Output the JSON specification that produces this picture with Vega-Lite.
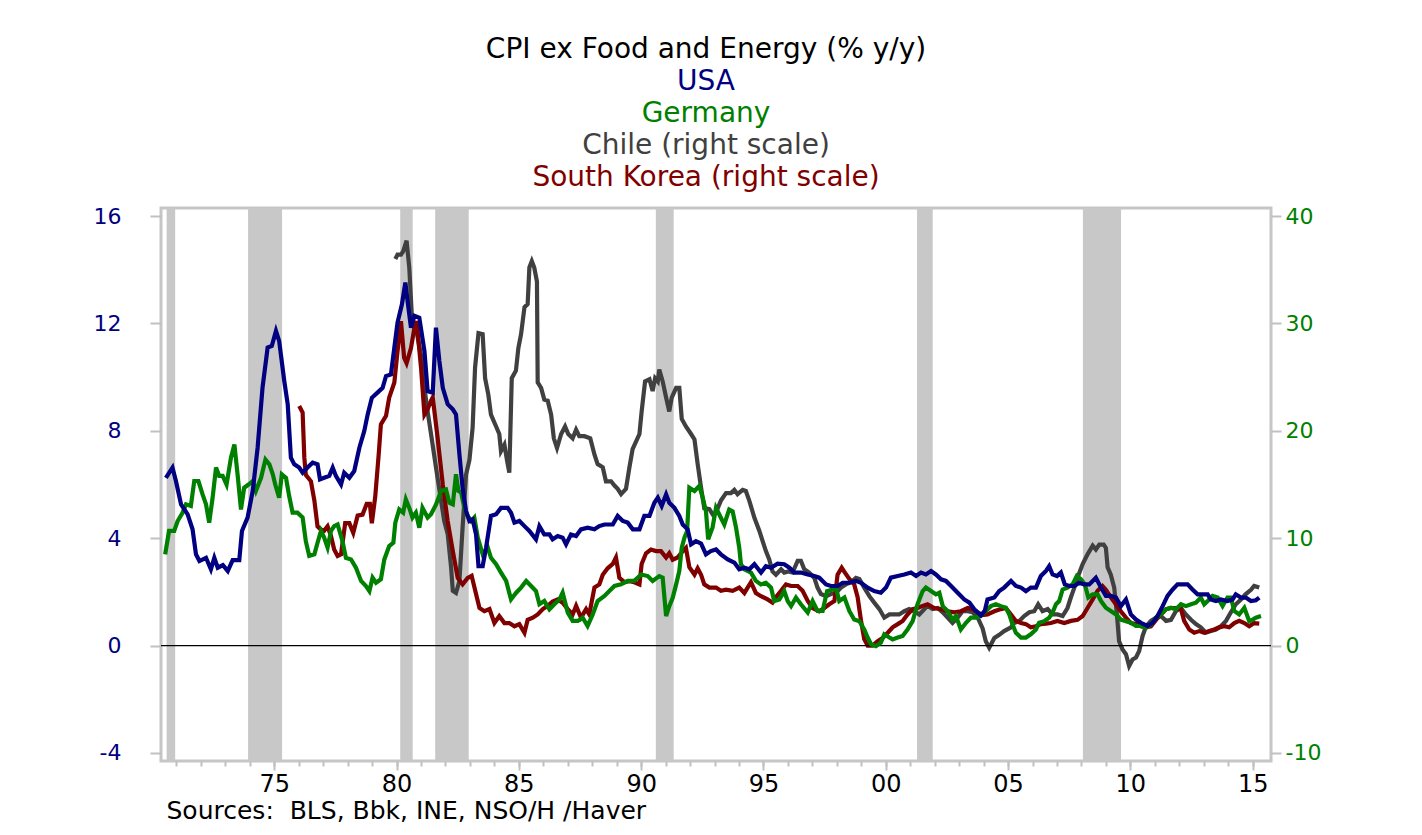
{
"$schema":"https://vega.github.io/schema/vega-lite/v6.json",
"background":"white",
"padding":{"left":91,"top":34,"right":10,"bottom":5},
"autosize":{"type":"pad"},
"config":{"view":{"stroke":"#c6c6c6","strokeWidth":3},"font":"DejaVu Sans"},
"datasets":{
"hdr":[
{"k":1,"label":"CPI ex Food and Energy (% y/y)","c":"Title"},
{"k":2,"label":"USA","c":"USA"},
{"k":3,"label":"Germany","c":"Germany"},
{"k":4,"label":"Chile (right scale)","c":"Chile"},
{"k":5,"label":"South Korea (right scale)","c":"South Korea"}
],
"zero":[{"level":0}],
"rec":[
{"a":1970.6,"b":1970.95},{"a":1973.93,"b":1975.32},{"a":1980.15,"b":1980.66},{"a":1981.58,"b":1982.95},{"a":1990.6,"b":1991.33},{"a":2001.28,"b":2001.92},{"a":2008.06,"b":2009.62}
],
"usa":[
[1970.57,6.25],[1970.84,6.63],[1970.98,6.13],[1971.19,5.26],[1971.46,4.89],[1971.66,4.33],[1971.8,3.4],[1971.94,3.15],[1972.21,3.27],[1972.41,2.84],[1972.55,3.27],[1972.69,2.9],[1972.9,3.0],[1973.1,2.78],[1973.3,3.18],[1973.57,3.18],[1973.68,4.27],[1973.91,4.77],[1974.12,5.76],[1974.32,7.37],[1974.52,9.6],[1974.73,11.1],[1974.9,11.16],[1975.07,11.72],[1975.2,11.35],[1975.41,9.85],[1975.55,8.99],[1975.68,7.0],[1975.82,6.75],[1976.02,6.63],[1976.16,6.44],[1976.36,6.63],[1976.57,6.81],[1976.77,6.75],[1976.87,6.19],[1977.04,6.25],[1977.25,6.32],[1977.39,6.63],[1977.52,6.32],[1977.73,6.0],[1977.86,6.44],[1978.07,6.25],[1978.27,6.5],[1978.48,7.37],[1978.68,7.99],[1978.82,8.61],[1978.99,9.23],[1979.22,9.42],[1979.43,9.6],[1979.57,10.04],[1979.77,10.1],[1979.91,11.1],[1980.04,12.03],[1980.22,12.71],[1980.36,13.52],[1980.45,12.83],[1980.59,11.84],[1980.73,12.28],[1980.93,12.21],[1981.14,10.97],[1981.27,9.48],[1981.48,9.42],[1981.61,11.84],[1981.75,10.6],[1981.89,9.6],[1982.09,8.99],[1982.3,8.8],[1982.43,8.61],[1982.57,7.12],[1982.7,5.88],[1982.84,5.01],[1982.98,4.64],[1983.11,4.7],[1983.25,4.14],[1983.35,2.96],[1983.52,2.96],[1983.66,3.65],[1983.86,4.83],[1984.07,4.89],[1984.27,5.13],[1984.54,5.13],[1984.68,4.95],[1984.82,4.58],[1985.02,4.64],[1985.23,4.45],[1985.43,4.27],[1985.7,3.96],[1985.84,4.45],[1986.04,4.14],[1986.25,4.14],[1986.38,3.96],[1986.59,4.08],[1986.79,4.02],[1986.93,3.77],[1987.13,4.14],[1987.34,4.08],[1987.54,4.33],[1987.81,4.39],[1988.09,4.33],[1988.29,4.45],[1988.5,4.51],[1988.84,4.51],[1989.04,4.83],[1989.25,4.64],[1989.45,4.58],[1989.66,4.33],[1989.93,4.33],[1990.13,4.83],[1990.34,4.83],[1990.54,5.32],[1990.68,5.51],[1990.84,5.2],[1991.02,5.63],[1991.15,5.32],[1991.36,5.13],[1991.56,4.83],[1991.7,4.51],[1991.9,4.33],[1992.04,3.77],[1992.24,3.89],[1992.45,3.8],[1992.65,3.4],[1992.85,3.52],[1993.06,3.58],[1993.26,3.4],[1993.54,3.21],[1993.81,3.09],[1994.01,2.84],[1994.22,2.9],[1994.42,2.84],[1994.63,3.03],[1994.9,2.72],[1995.1,2.96],[1995.31,2.9],[1995.58,3.05],[1995.85,3.03],[1996.06,2.9],[1996.26,2.72],[1996.53,2.72],[1996.81,2.65],[1997.08,2.59],[1997.28,2.53],[1997.56,2.28],[1997.76,2.22],[1998.03,2.22],[1998.24,2.34],[1998.51,2.34],[1998.78,2.41],[1998.99,2.34],[1999.26,2.16],[1999.53,2.03],[1999.8,1.97],[2000.01,2.16],[2000.21,2.53],[2000.49,2.59],[2000.76,2.65],[2001.03,2.72],[2001.24,2.59],[2001.44,2.72],[2001.64,2.65],[2001.85,2.78],[2002.05,2.65],[2002.26,2.47],[2002.46,2.41],[2002.67,2.22],[2002.94,1.97],[2003.21,1.72],[2003.42,1.6],[2003.62,1.35],[2003.89,1.12],[2004.05,1.3],[2004.16,1.72],[2004.44,1.79],[2004.64,2.03],[2004.84,2.16],[2005.12,2.41],[2005.32,2.22],[2005.53,2.16],[2005.73,2.03],[2005.93,2.16],[2006.14,2.16],[2006.34,2.59],[2006.55,2.78],[2006.68,2.96],[2006.82,2.65],[2007.0,2.59],[2007.16,2.72],[2007.32,2.28],[2007.5,2.22],[2007.71,2.22],[2007.91,2.34],[2008.11,2.28],[2008.32,2.28],[2008.59,2.53],[2008.8,2.16],[2009.0,1.85],[2009.2,1.85],[2009.41,1.79],[2009.61,1.47],[2009.82,1.72],[2010.02,1.16],[2010.23,0.97],[2010.43,0.85],[2010.7,0.73],[2010.91,0.85],[2011.11,1.1],[2011.32,1.47],[2011.52,1.85],[2011.73,2.09],[2011.93,2.28],[2012.14,2.28],[2012.34,2.28],[2012.54,2.09],[2012.75,1.91],[2012.95,1.91],[2013.16,1.91],[2013.29,1.72],[2013.5,1.66],[2013.7,1.72],[2013.97,1.66],[2014.18,1.72],[2014.31,1.91],[2014.52,1.79],[2014.72,1.79],[2014.93,1.66],[2015.13,1.69],[2015.27,1.79]
],
"ger":[
[1970.54,3.4],[1970.7,4.27],[1970.91,4.27],[1971.05,4.64],[1971.25,4.95],[1971.39,5.26],[1971.59,5.2],[1971.73,6.13],[1971.9,6.13],[1972.07,5.63],[1972.21,5.26],[1972.34,4.58],[1972.48,5.51],[1972.62,6.63],[1972.75,6.32],[1972.89,6.32],[1973.05,6.0],[1973.23,7.0],[1973.37,7.49],[1973.5,6.38],[1973.64,5.07],[1973.77,5.88],[1973.95,6.0],[1974.12,6.13],[1974.25,5.76],[1974.46,6.25],[1974.64,6.93],[1974.8,6.75],[1974.94,6.38],[1975.04,6.0],[1975.2,5.51],[1975.31,6.38],[1975.48,6.25],[1975.61,5.57],[1975.75,4.95],[1975.95,4.95],[1976.16,4.77],[1976.29,3.89],[1976.43,3.34],[1976.64,3.4],[1976.77,3.83],[1976.91,4.27],[1977.04,4.02],[1977.18,3.65],[1977.32,4.27],[1977.45,4.45],[1977.59,4.51],[1977.79,3.89],[1977.93,3.27],[1978.14,3.21],[1978.34,2.9],[1978.55,2.41],[1978.75,2.22],[1978.89,2.03],[1979.02,2.53],[1979.16,2.34],[1979.36,2.47],[1979.5,3.21],[1979.7,3.71],[1979.87,3.83],[1979.95,4.58],[1980.11,5.07],[1980.27,4.95],[1980.38,5.45],[1980.52,5.13],[1980.65,4.77],[1980.79,4.95],[1980.93,4.39],[1981.06,5.13],[1981.27,4.77],[1981.41,4.89],[1981.61,5.25],[1981.82,5.76],[1982.02,5.82],[1982.16,5.32],[1982.3,5.26],[1982.43,6.38],[1982.53,5.76],[1982.64,5.7],[1982.77,5.13],[1982.91,4.83],[1983.05,4.64],[1983.18,4.77],[1983.32,4.02],[1983.52,3.4],[1983.73,3.65],[1983.86,3.27],[1984.07,3.03],[1984.27,2.72],[1984.48,2.41],[1984.68,1.72],[1984.89,1.97],[1985.09,2.16],[1985.3,2.41],[1985.5,2.22],[1985.7,2.03],[1985.84,1.54],[1986.04,1.66],[1986.25,1.35],[1986.45,1.54],[1986.66,1.72],[1986.79,1.97],[1987.0,1.23],[1987.2,0.92],[1987.41,0.92],[1987.61,1.04],[1987.81,0.73],[1988.02,1.16],[1988.22,1.66],[1988.5,1.85],[1988.7,2.03],[1988.91,2.22],[1989.18,2.28],[1989.45,2.41],[1989.72,2.41],[1990.0,2.65],[1990.27,2.59],[1990.47,2.41],[1990.74,2.59],[1990.88,2.53],[1991.02,1.1],[1991.15,1.47],[1991.29,1.78],[1991.43,2.28],[1991.56,2.78],[1991.66,3.65],[1991.77,4.02],[1991.88,4.27],[1991.97,5.88],[1992.18,5.76],[1992.38,5.95],[1992.52,5.5],[1992.65,5.0],[1992.74,3.96],[1992.92,4.4],[1993.06,5.13],[1993.26,4.76],[1993.4,4.51],[1993.6,5.07],[1993.74,5.0],[1993.88,4.39],[1994.01,3.65],[1994.08,3.03],[1994.22,2.84],[1994.49,2.72],[1994.69,2.41],[1994.9,2.28],[1995.1,2.34],[1995.31,2.16],[1995.44,1.66],[1995.65,1.72],[1995.85,2.03],[1995.99,1.66],[1996.13,1.47],[1996.33,1.79],[1996.53,1.54],[1996.81,1.23],[1997.01,1.66],[1997.21,1.29],[1997.42,1.29],[1997.6,2.03],[1997.83,2.09],[1997.96,2.16],[1998.1,1.66],[1998.31,1.79],[1998.51,1.29],[1998.71,0.97],[1998.92,0.91],[1999.12,0.6],[1999.26,0.3],[1999.4,0.05],[1999.6,-0.02],[1999.8,0.11],[1999.94,0.42],[2000.15,0.3],[2000.28,0.23],[2000.49,0.3],[2000.69,0.36],[2000.89,0.6],[2001.1,0.91],[2001.3,1.54],[2001.51,2.03],[2001.64,2.16],[2001.85,2.03],[2002.05,1.91],[2002.19,1.97],[2002.33,1.47],[2002.53,1.29],[2002.73,0.97],[2002.87,1.1],[2003.07,0.6],[2003.28,0.85],[2003.48,1.04],[2003.69,1.04],[2003.89,1.12],[2004.09,1.29],[2004.3,1.47],[2004.5,1.54],[2004.71,1.47],[2004.91,1.41],[2005.05,1.16],[2005.18,0.79],[2005.32,0.48],[2005.53,0.3],[2005.73,0.3],[2005.93,0.42],[2006.14,0.6],[2006.27,0.85],[2006.48,0.91],[2006.68,1.04],[2006.82,1.23],[2006.96,1.54],[2007.09,1.66],[2007.23,2.09],[2007.43,2.16],[2007.64,2.28],[2007.81,2.59],[2007.98,2.47],[2008.14,2.28],[2008.28,1.79],[2008.46,1.91],[2008.66,1.91],[2008.8,1.66],[2009.0,1.41],[2009.2,1.29],[2009.41,1.16],[2009.61,0.97],[2009.82,0.91],[2010.02,0.85],[2010.23,0.73],[2010.43,0.73],[2010.64,0.67],[2010.84,0.79],[2011.05,1.04],[2011.25,1.16],[2011.46,1.35],[2011.66,1.41],[2011.86,1.35],[2012.07,1.54],[2012.27,1.47],[2012.48,1.54],[2012.68,1.6],[2012.88,1.79],[2013.02,1.54],[2013.16,1.66],[2013.36,1.85],[2013.57,1.79],[2013.77,1.47],[2013.97,1.79],[2014.11,1.79],[2014.25,1.29],[2014.45,1.16],[2014.66,1.41],[2014.86,0.91],[2015.0,0.97],[2015.13,1.04],[2015.34,1.1]
],
"kor":[
[1976.02,22.3],[1976.16,21.7],[1976.23,17.5],[1976.29,15.9],[1976.5,15.3],[1976.64,13.5],[1976.77,11.1],[1976.91,10.8],[1977.04,10.7],[1977.18,11.1],[1977.32,10.2],[1977.45,8.95],[1977.59,8.35],[1977.73,8.5],[1977.9,11.4],[1978.07,11.4],[1978.23,10.5],[1978.41,12.1],[1978.61,12.2],[1978.78,13.2],[1978.91,13.2],[1978.99,11.4],[1979.13,13.9],[1979.27,17.8],[1979.36,20.6],[1979.57,21.4],[1979.7,23.1],[1979.91,24.5],[1980.04,27.4],[1980.18,30.2],[1980.31,26.8],[1980.41,26.3],[1980.59,27.7],[1980.73,29.6],[1980.82,30.2],[1981.0,25.9],[1981.14,21.5],[1981.27,22.0],[1981.41,22.8],[1981.48,23.1],[1981.68,19.3],[1981.89,15.0],[1982.09,11.6],[1982.3,8.8],[1982.5,6.3],[1982.7,5.7],[1982.91,6.3],[1983.07,6.5],[1983.25,4.8],[1983.39,3.5],[1983.59,3.2],[1983.8,3.4],[1984.0,2.1],[1984.2,2.75],[1984.41,2.1],[1984.61,2.1],[1984.82,1.8],[1985.02,2.0],[1985.23,1.2],[1985.36,2.4],[1985.57,2.6],[1985.77,2.9],[1985.98,3.4],[1986.18,3.7],[1986.38,4.1],[1986.59,4.3],[1986.79,4.0],[1987.0,3.4],[1987.2,2.9],[1987.34,3.7],[1987.54,2.6],[1987.75,3.4],[1987.88,2.9],[1988.09,5.4],[1988.29,5.7],[1988.43,6.6],[1988.63,7.2],[1988.84,7.6],[1988.97,8.2],[1989.11,6.3],[1989.32,5.9],[1989.52,6.0],[1989.72,5.9],[1989.93,5.7],[1990.02,7.6],[1990.2,8.6],[1990.4,8.95],[1990.61,8.8],[1990.81,8.8],[1991.02,8.2],[1991.15,8.6],[1991.29,8.0],[1991.49,8.2],[1991.7,8.8],[1991.83,9.1],[1991.97,7.3],[1992.18,6.6],[1992.31,7.2],[1992.45,6.6],[1992.58,5.7],[1992.79,5.4],[1993.06,5.4],[1993.26,5.1],[1993.47,5.2],[1993.74,5.1],[1994.01,5.4],[1994.22,4.9],[1994.49,5.9],[1994.69,4.9],[1994.9,4.6],[1995.17,4.3],[1995.37,4.0],[1995.51,4.5],[1995.72,5.1],[1995.92,5.7],[1996.13,5.55],[1996.4,5.55],[1996.6,5.1],[1996.81,4.15],[1997.01,3.5],[1997.28,3.2],[1997.49,3.5],[1997.69,3.85],[1997.9,4.15],[1998.03,6.6],[1998.2,7.25],[1998.33,6.8],[1998.51,6.2],[1998.71,5.7],[1998.85,4.5],[1998.99,2.3],[1999.12,0.6],[1999.26,0.0],[1999.46,0.0],[1999.67,0.4],[1999.87,0.7],[2000.08,1.2],[2000.28,1.7],[2000.49,2.0],[2000.69,2.3],[2000.89,2.9],[2001.1,3.4],[2001.3,3.5],[2001.51,3.7],[2001.71,3.85],[2001.98,3.5],[2002.26,3.4],[2002.53,3.2],[2002.8,3.1],[2003.07,3.2],[2003.35,3.5],[2003.55,3.4],[2003.76,3.1],[2003.95,2.85],[2004.16,2.9],[2004.44,3.2],[2004.71,3.4],[2004.91,3.5],[2005.12,2.9],[2005.32,2.3],[2005.53,2.1],[2005.73,2.0],[2005.93,1.7],[2006.14,1.8],[2006.34,2.0],[2006.55,2.05],[2006.75,2.1],[2007.02,2.3],[2007.3,2.1],[2007.57,2.3],[2007.84,2.4],[2008.05,2.75],[2008.25,3.5],[2008.46,4.3],[2008.66,5.1],[2008.86,5.55],[2009.0,5.2],[2009.2,4.5],[2009.41,3.85],[2009.61,3.2],[2009.82,2.6],[2010.02,2.1],[2010.23,2.0],[2010.43,1.8],[2010.64,1.7],[2010.84,1.8],[2011.05,2.4],[2011.25,2.9],[2011.46,3.4],[2011.66,3.5],[2011.86,3.5],[2012.07,3.4],[2012.2,2.3],[2012.41,1.5],[2012.61,1.2],[2012.82,1.35],[2013.02,1.2],[2013.23,1.35],[2013.43,1.5],[2013.63,1.7],[2013.84,1.8],[2014.04,1.7],[2014.25,2.1],[2014.45,2.3],[2014.66,2.1],[2014.86,1.8],[2015.06,2.1],[2015.27,2.05]
],
"chl":[
[1979.95,36.0],[1980.04,36.4],[1980.18,36.4],[1980.27,36.7],[1980.41,37.7],[1980.52,35.2],[1980.63,30.5],[1980.8,29.5],[1981.0,27.0],[1981.14,24.0],[1981.27,21.8],[1981.41,19.7],[1981.61,16.6],[1981.82,13.5],[1981.95,11.6],[1982.09,10.4],[1982.23,7.3],[1982.3,5.1],[1982.43,4.9],[1982.57,6.0],[1982.7,11.0],[1982.84,15.9],[1982.98,17.3],[1983.11,20.3],[1983.21,25.9],[1983.35,29.1],[1983.52,29.0],[1983.62,24.9],[1983.75,23.4],[1983.86,21.5],[1984.07,20.4],[1984.2,19.7],[1984.27,18.1],[1984.41,18.7],[1984.52,17.2],[1984.61,16.1],[1984.71,24.9],[1984.88,25.6],[1984.98,27.7],[1985.09,29.0],[1985.23,31.5],[1985.36,31.8],[1985.43,35.2],[1985.53,35.8],[1985.63,35.2],[1985.74,33.9],[1985.77,24.5],[1985.91,24.0],[1986.04,22.9],[1986.18,22.8],[1986.32,21.5],[1986.43,19.3],[1986.56,18.4],[1986.73,19.7],[1986.89,20.4],[1987.02,19.7],[1987.2,19.3],[1987.34,20.1],[1987.47,19.5],[1987.68,19.5],[1987.92,19.3],[1988.09,17.8],[1988.22,16.9],[1988.43,16.6],[1988.56,15.3],[1988.77,15.3],[1988.91,14.9],[1989.04,14.6],[1989.18,14.1],[1989.38,14.6],[1989.52,16.6],[1989.65,18.3],[1989.79,19.0],[1989.93,19.7],[1990.02,21.8],[1990.16,24.6],[1990.34,24.8],[1990.47,23.7],[1990.57,24.9],[1990.68,24.6],[1990.74,25.7],[1990.88,24.6],[1991.02,23.1],[1991.15,21.8],[1991.25,23.1],[1991.43,24.0],[1991.56,24.0],[1991.66,21.1],[1991.83,20.4],[1992.04,19.7],[1992.18,19.2],[1992.31,16.9],[1992.45,14.7],[1992.58,12.8],[1992.79,12.7],[1992.93,12.2],[1993.06,12.4],[1993.26,13.5],[1993.47,14.2],[1993.67,14.2],[1993.81,14.5],[1993.94,14.1],[1994.15,14.5],[1994.28,14.4],[1994.42,13.5],[1994.63,11.9],[1994.83,10.7],[1994.97,9.7],[1995.1,8.8],[1995.24,8.0],[1995.37,6.9],[1995.51,6.6],[1995.72,7.1],[1995.85,6.8],[1996.02,6.9],[1996.19,6.8],[1996.4,7.9],[1996.53,7.9],[1996.67,7.1],[1996.87,6.8],[1997.08,6.3],[1997.21,5.4],[1997.35,4.8],[1997.56,4.6],[1997.76,4.8],[1997.96,4.9],[1998.17,5.4],[1998.37,5.7],[1998.58,5.9],[1998.78,6.3],[1998.92,6.2],[1999.12,5.4],[1999.33,4.6],[1999.53,4.0],[1999.74,3.4],[1999.94,2.6],[2000.15,2.9],[2000.35,2.9],[2000.55,2.9],[2000.76,3.2],[2000.96,3.4],[2001.17,3.2],[2001.37,2.9],[2001.58,3.4],[2001.71,3.7],[2001.92,3.4],[2002.12,3.5],[2002.33,3.1],[2002.53,2.6],[2002.73,2.1],[2002.94,2.6],[2003.14,3.2],[2003.35,3.2],[2003.55,3.1],[2003.76,2.6],[2003.96,1.6],[2004.09,0.4],[2004.23,-0.2],[2004.44,0.7],[2004.64,1.0],[2004.84,1.35],[2005.12,1.7],[2005.25,2.1],[2005.46,2.3],[2005.66,2.75],[2005.87,3.1],[2006.07,3.2],[2006.23,3.85],[2006.41,3.2],[2006.62,3.4],[2006.82,2.9],[2007.02,2.9],[2007.23,2.75],[2007.43,3.5],[2007.57,4.5],[2007.71,5.4],[2007.87,6.5],[2008.05,7.6],[2008.25,8.5],[2008.46,9.3],[2008.59,8.95],[2008.73,9.4],[2008.91,9.4],[2009.0,9.1],[2009.07,7.3],[2009.2,6.6],[2009.34,5.4],[2009.45,2.9],[2009.54,0.4],[2009.68,-0.35],[2009.82,-0.8],[2009.95,-1.9],[2010.09,-1.3],[2010.23,-1.1],[2010.36,-0.5],[2010.5,0.9],[2010.64,1.8],[2010.84,2.3],[2011.05,2.6],[2011.25,2.75],[2011.46,2.3],[2011.66,2.4],[2011.86,3.2],[2012.07,3.5],[2012.27,2.9],[2012.48,2.4],[2012.68,2.0],[2012.88,1.7],[2013.09,1.2],[2013.29,1.35],[2013.5,1.5],[2013.7,1.8],[2013.91,2.3],[2014.11,3.1],[2014.31,3.85],[2014.52,4.3],[2014.72,4.8],[2014.93,5.2],[2015.06,5.55],[2015.27,5.4]
]
},
"resolve":{"scale":{"color":"independent","x":"independent","y":"independent"}},
"spacing":9,
"vconcat":[
{
"width":1110,"height":160,
"view":{"stroke":null},
"data":{"name":"hdr"},
"mark":{"type":"text","fontSize":28,"dx":-10,"baseline":"middle"},
"encoding":{
"y":{"field":"k","type":"ordinal","axis":null,"scale":{"type":"point","padding":0.5}},
"text":{"field":"label"},
"color":{"field":"c","type":"nominal","legend":null,"scale":{"domain":["Title","USA","Germany","Chile","South Korea"],"range":["#000000","#000080","#008000","#404040","#800000"]}}
}
},
{
"width":1110,"height":553,
"resolve":{"scale":{"y":"independent"},"axis":{"x":"independent","y":"independent"}},
"layer":[
{
"data":{"name":"rec"},
"mark":{"type":"rect","color":"#c8c8c8"},
"encoding":{
"x":{"field":"a","type":"quantitative","scale":{"domain":[1970.37,2015.75],"nice":false,"zero":false},
"axis":{"orient":"bottom","values":[1971,1972,1973,1974,1975,1976,1977,1978,1979,1980,1981,1982,1983,1984,1985,1986,1987,1988,1989,1990,1991,1992,1993,1994,1995,1996,1997,1998,1999,2000,2001,2002,2003,2004,2005,2006,2007,2008,2009,2010,2011,2012,2013,2014,2015],"labels":false,"tickSize":5,"tickColor":"#c0c0c0","tickWidth":2,"domain":false,"grid":false,"title":null}},
"x2":{"field":"b"}
}
},
{
"data":{"name":"chl"},
"mark":{"type":"line","strokeWidth":4.2},
"encoding":{
"x":{"field":"0","type":"quantitative","scale":{"domain":[1970.37,2015.75],"nice":false,"zero":false},
"axis":{"orient":"bottom","values":[1975,1980,1985,1990,1995,2000,2005,2010,2015],"labelExpr":"format(datum.value % 100, '02d')","labelFlush":false,"labelFontSize":24,"labelColor":"#000000","labelPadding":2,"tickSize":9,"tickColor":"#c0c0c0","tickWidth":2,"domain":false,"grid":false,"title":"Sources:\u00a0 BLS, Bbk, INE, NSO/H /Haver","titleFontSize":25,"titleFontWeight":"normal","titleColor":"#000000","titleAnchor":"start","titleAlign":"left","titleX":5,"titlePadding":2}},
"y":{"field":"1","type":"quantitative","scale":{"domain":[-10.745,40.745],"nice":false,"zero":false},"axis":{"orient":"right","values":[-10,0,10,20,30,40],"labelExpr":"toString(datum.value)","labelColor":"#008000","labelFontSize":22,"tickSize":10,"tickColor":"#c0c0c0","tickWidth":2,"labelPadding":4,"domain":false,"grid":false,"title":null}},
"color":{"datum":"Chile","type":"nominal","legend":null,"scale":{"domain":["Title","USA","Germany","Chile","South Korea"],"range":["#000000","#000080","#008000","#404040","#800000"]}}
}
},
{
"data":{"name":"kor"},
"mark":{"type":"line","strokeWidth":4.2},
"encoding":{
"x":{"field":"0","type":"quantitative","scale":{"domain":[1970.37,2015.75],"nice":false,"zero":false},"axis":null},
"y":{"field":"1","type":"quantitative","scale":{"domain":[-10.745,40.745],"nice":false,"zero":false},"axis":null},
"color":{"datum":"South Korea","type":"nominal","legend":null}
}
},
{
"data":{"name":"zero"},
"mark":{"type":"rule","color":"#000000","strokeWidth":1.3},
"encoding":{"y":{"field":"level","type":"quantitative","scale":{"domain":[-4.298,16.298],"nice":false,"zero":false},"axis":null}}
},
{
"data":{"name":"ger"},
"mark":{"type":"line","strokeWidth":4.2},
"encoding":{
"x":{"field":"0","type":"quantitative","scale":{"domain":[1970.37,2015.75],"nice":false,"zero":false},"axis":null},
"y":{"field":"1","type":"quantitative","scale":{"domain":[-4.298,16.298],"nice":false,"zero":false},"axis":{"orient":"left","values":[-4,0,4,8,12,16],"labelExpr":"toString(datum.value)","labelColor":"#000080","labelFontSize":22,"tickSize":11,"tickColor":"#c0c0c0","tickWidth":2,"labelPadding":29,"domain":false,"grid":false,"title":null}},
"color":{"datum":"Germany","type":"nominal","legend":null}
}
},
{
"data":{"name":"usa"},
"mark":{"type":"line","strokeWidth":4.2},
"encoding":{
"x":{"field":"0","type":"quantitative","scale":{"domain":[1970.37,2015.75],"nice":false,"zero":false},"axis":null},
"y":{"field":"1","type":"quantitative","scale":{"domain":[-4.298,16.298],"nice":false,"zero":false},"axis":null},
"color":{"datum":"USA","type":"nominal","legend":null}
}
}
]
}
]
}
